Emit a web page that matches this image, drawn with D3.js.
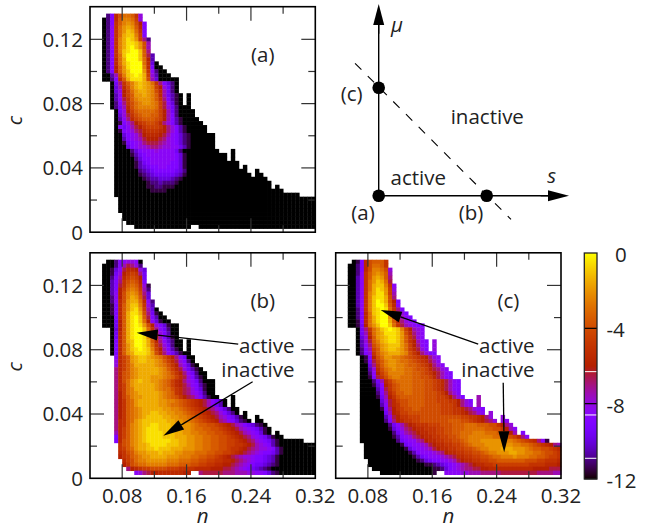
<!DOCTYPE HTML>
<html>
<head>
<meta charset="utf-8">
<script src="https://d3js.org/d3.v7.min.js"></script>
<style type="text/css">
    html, body { margin: 0; padding: 0; background: #fff; }
    svg { display: block; }
    text { font-family: "Open Sans", sans-serif; font-size: 20.5px; fill: #222; }
    .it { font-style: italic; }
</style>
</head>
<body>
<svg id="chart" width="655" height="529"></svg>
<script>
// values coded per cell: A = 0, B = -0.5, C = -1 ... Y = -12, "." = no data
var heatA = [
".WSLIGGHKQ",
"YWSLHFFGJQ",
"YWSKHFEFIMS",
"YWRKGEDEHLS",
"YWRKGECDGKS",
"YWRKGDCCFJS",
"YWRKFDBCEJOW",
"YWRKFDBBCEIP",
"YWRKFDBACEIP",
"YWSKFCBAACHO",
"YWSKGCAAACHNV",
"YWSLGDAAACGMV",
"YWSLGDBAAAGLUY",
"YWSMHEBAAAFLSYY",
"YWSMHECAAAEKRWYY",
"YYVPJFCBABDJQVYYY",
"YYWSLHDBBBDIPUYYYYY",
"..YTOKHFDCDEGKOSUWY",
"..YUPLIFDCDEFJMQTWY",
"..YUQMJGEDDEFILPTWY",
"..YVRMJHEEDEFHLPTVXY.Y",
"..YVRNKHFEEEFHKOSVXY.Y",
"..YWSOKIGFEEFGJNRUXY.Y",
"..YWTPLIGFFFFGJNQTWYYY",
"...YTQMJHGGGGHJMPTWYYYY",
"...YUQNKIHGGHHJMPSWYYYY",
"...YVROLJIHHHIJMPSVXYYYY",
"...YXSQOMKJIIJLOQSVXYYYYY",
"...YSTRPNMKJJJKMOQSVXYYYYY",
"...YXSRQONLKKKLMOQSVXYYYYY",
"...YYUSRQOMLLLMNPRSUWXYYYYYY",
"...YYVSRQPNMMMNOQRSUWXYYYYYY",
"...YYXTSRQONNNOPQRSUWXYYYYYY",
"...YYYUSRQQPOOPQQRRTVXYYYYYY",
"...YYYYWUSRRRQRRRRTWYYYYYYYYY...Y",
"...YYYYXVTSRRRRRRRSUXYYYYYYYYYY.Y",
"...YYYYYWUSSRRRRRRSUXYYYYYYYYYY.Y",
"...YYYYYXVTSRRRRRSSUXYYYYYYYYYYYYY",
"...YYYYYXVUTSSRRSSSUXYYYYYYYYYYYYY.Y",
"...YYYYYYWVUTSSSSSTUWYYYYYYYYYYYYYYY..Y",
"...YYYYYYXWVUTTTTTUVXYYYYYYYYYYYYYYYY.YY",
"...YYYYYYYXWVVUUUVWXYYYYYYYYYYYYYYYYYYYYY",
"...YYYYYYYYXWWVWWWXYYYYYYYYYYYYYYYYYYYYYYY",
"...YYYYYYYYXXWWXXXYYYYYYYYYYYYYYYYYYYYYYYY.Y",
"...YYYYYYYYYXXXXYYYYYYYYYYYYYYYYYYYYYYYYYYYYY",
"...YYYYYYYYYYYYYYYYYYYYYYYYYYYYYYYYYYYYYYYYYYYYYY",
"....YYYYYYYYYYYYYYYYYYYYYYYYYYYYYYYYYYYYYYYYYYYYYYYYY",
"....YYYYYYYYYYYYYYYYYYYYYYYYYYYYYYYYYYYYYYYYYYYYYYYYY",
"....YYYYYYYYYYYYYYYYYYYYYYYYYYYYYYYYYYYYYYYYYYYYYYYYY",
"....YYYYYYYYYYYYYYYYYYYYYYYYYYYYYYYYYYYYYYYYYYYYYYYYY",
".....YYYYYYYYYYYYYYYYYYYYYYYYYYYYYYYYYYYYYYYYYYYYYYYY",
".....YYYYYYYYYYYYYYYYYYYYYYYYYYYYYYYYYYYYYYYYYYYYYYYY",
"......YYYYYYYYYYYYYYYYYYYYYYYYYYYYYYYYYYYYYYYYYYYYYYY",
"........YYYYYYYYYYYYYY..YYYYYYYYYYYYYYYYYYYYYYYYYYYYY"
];
var heatB = [
".YYWSRQQRY",
"YYYWSPNOQW",
"YYXURNLLMQU",
"YYXTQMKJKOT",
"YYWSPLJIJMT",
"YYVSOKIHILS",
"YYVSNKHGHKQX",
"YYVSMJGFGJPW",
"YYVRMIFEFIOU",
"YYWRMIFDEHNU",
"YYWRLIEDDGLRW",
"YYXSLHECCFKQV",
"YYXSLHECBEJPUY",
"YYXSLHDBBDIOTXY",
"YYYSLHDBACHNSVYY",
"YYYTMHDBACGMRUXYY",
"YYYTMHDBABEIMQSUXYY",
"..YUMHDBAACGKORTWYY",
"..YTLHDBAABFJNQSVYY",
"..YTLHDBAABEIMPSVXY",
"..YSLHDCAABDHLORUWYY.Y",
"..YSLHECAABDGKNQTWYY.Y",
"..YSLHECBABCFJMPSVXY.Y",
"..YSLHEDBBBCEILORTVXYY",
"...RLJHEDCCDEFGIKMORTYY",
"...QLJHEDCCDDEFHJLNQSWY",
"...QLJHFDDDDDEFGIKMPRUXY",
"...OLJHFEDDDDDEFHJLNQTVXY",
"...OLIHFEDDDDDEFGIKMORTWYY",
"...OLIHFEDDDEEEFGHJLNQSVXY",
"...OLIGEDCDDEEFGHJLMOQRTWYYY",
"...OLJGEDDDDDEFGHJLMNPRSVXYY",
"...OLJGFDDDDDEFGGIKLNOQSUXYY",
"...OMJGFEDDDDDEFGHKLNOQRTWYY",
"...OMJHFEEDDDDEFGHIKMNOQSVXYY...Y",
"...OMKHGEDDDDDEEFFGHIJKLMNPRTVY.Y",
"...OMKHGEDDDDDEEFGGHIJKLMNPRTVY.Y",
"...OMKHGFEDDDDDEEFFGHIJKLMNOQSUWYY",
"...OMKHGFEDDCCDDEEFFGHIJKLMNOQSUWY.Y",
"...OMKHGFEDCCCCDDEEFFGHIJKLMNPQSTVXY..Y",
"...OLKHGEDCCCCCCDDEEFFGHIJKLMOPRSUWXY.YY",
"...OLKHFEDCCBBCCCDDDEEFGHHIIJKLMNPQSTUWXY",
"...OLJHFEDCBBBCCCDDDEEFGGHHIIJKLMNPQRSTVXY",
"...PLJHFEDCBBBBCCCDDEEFFGGHHIIJKLMNPQRSUXY.Y",
"...SLJHFEDCBBBBCCCDDDEEFFGGHHIIJKLMNOQRSTVXYY",
"...SLIHFEDCBBBBBBCCDDEEFFGGHHIIJJKLMNOQRSTVXYYYYYY",
"....KIHFEDDCBBBBCCCDDEEFFGGHHIIJJKKLMNPQRSVXYYYYYYYYY",
"....KJHGEDDCCBCCCDDDEEEFFGGHHIIJKKLMNOPQQRSVXYYYYYYYY",
"....LKIHFEEDDDCDDDEEFFFGGGHHIIJJKLMNOPQRSSTVXYYYYYYYY",
"....MKJHGFEEDDDDEEEFFFGGHHIIJKLMNOPQQRSSTUVXYYYYYYYYY",
".....LJIGFFEEEEEFFFGGGHHIIJJKKLLMNOPQRSSTUVXYYYYYYYYY",
".....MKIHGGFFFFFGGGHHHIIJJKKLLMMNOPQRSTTUVWXYYYYYYYYY",
"......OMLKJJIIIIJJJKKKKLLLLMMMNNOPQRSTUVWXYYYYYYYYYYY",
"........RQONMMLLLLLLMM..ONNNNNOOOPPPQQRRSUWXYYYYYYYYY"
];
var heatC = [
".YXSLIHHHK",
"YYWSLIGGHK",
"YYWSLIFFGIQ",
"YYWRKHFEFHP",
"YYVRKHEDEHO",
"YYVRKGECDGN",
"YYVRKGDCCFKR",
"YYVRKGDBCEJQ",
"YYVRKFDBBEJP",
"YYVRKFCBBDIO",
"YYVRKFCABDIMS",
"YYVRKFCAACHLR",
"YYWRKFCBABGKOS",
"YYWSLGCBAAFJNQS",
"YYWSLGDBAAEIMPRS",
"YYXSLGDBAADHLOQRS",
"YYXTMGECAACGKNPQRSS",
"..YTOKGECBABCFJMPQR",
"..YTPLGEDBBBCEILOQR",
"..YUQMHEDCBBCEHKNQR",
"..YVQNHFDCBBCEHKMPRS.Q",
"..YVROIGEDCCCEGJMORS.Q",
"..YWSPJHEDCCDEGJLNQS.Q",
"..YWSQKHFEDDDEFIKMOQSS",
"...YXSMIGEEFFGHIJKLMOQR",
"...YXTNJHFEEFGGHIJKLNPR",
"...YYUOKHFEEFFGHHIJKMOQR",
"...YYVQLIGFEFFGGHIIJLNOQR",
"...YYWRMJHFFFFGGHHIJKMNPRS",
"...YYXSNKIGFFGGGHHIIJLNPRS",
"...YYYWTPLJHGGGGHHHIIJKLNPRS",
"...YYYXURMKIHGGGHHHIIJKLNPRS",
"...YYYYVSNKIHGGGHHHIIJKLNPRS",
"...YYYYWSOLJHHGGHHHIIIJKMOQS",
"...YYYYXTPMKIHHHHHHIIIJJKMOQS...P",
"...YYYYYUQNLJIIHHHHIIIJJJKKMOQS.P",
"...YYYYYVRNLKIIHHHHIIIIJJJKMOQR.P",
"...YYYYYXSOMKJIIHHIIIIIJJJKKLNOQRS",
"...YYYYYYTPMLJJIIIIIIIIJJJKKLMNOQR.Q",
"...YYYYYYVRNMKKJJJIIIIIIIIIIJJKKLMOQ..Q",
"...YYYYYYWSOMLKKJJIIIIIIIHHHIIJKLMNOQ.QR",
"...YYYYYYYWTRPNMLKKKJJJIIIHHHGGGHHHIIKMOQ",
"...YYYYYYYXUSQONMLLKKKJJIIHHHGGGGGHHIIKMPR",
"...YYYYYYYYWTRPONMLLKKJJIIHHGGGFFFGGGHIKMP.S",
"...YYYYYYYYXVSRQONMLLKKJJIIHGGFFFFFFGGGHIJLOR",
"...YYYYYYYYYWTSRRPOMLLKKJJIIHGFFFEEEEEEFFGHIJKLORX",
"....YYYYYYYYYXTSRRQPNMLLKKJJIHGFFFEEEEEEEFFGGHIJKLMOP",
"....YYYYYYYYYYXUSRRQPNMLLKKJJIIHGFFEEEDDDEEEFGHHIIJKL",
"....YYYYYYYYYYYXVSRRRQPOMLLKKJJIIHGFFEEEDDEEFFGGHIIJK",
"....YYYYYYYYYYYYXVTSRRRQPONLLKKJJIIHGGFFFEFFFGGHHIJJK",
".....YYYYYYYYYYYYXWUTSSRRQPNMLLKKJJIIHHHHHHHIIIJJKKKL",
".....YYYYYYYYYYYYYYXXWVUTSRQPONMLLKKJJJJJJJJJKKKKLLLM",
"......YYYYYYYYYYYYYYYXXWUSRQPOONNMMLLLLLLLLLLLMMMMNNN",
"........YYYYYYYYYYYYYX..RRRRQQPPPOOOOONNNNNNNNNOOOOPP"
];

var nTicks = [0.08, 0.12, 0.16, 0.20, 0.24, 0.28, 0.32];
var nLabels = [0.08, 0.16, 0.24, 0.32];
var cTicks = [0.02, 0.04, 0.06, 0.08, 0.10, 0.12];
var cLabels = [0, 0.04, 0.08, 0.12];
var barLabels = [0, -4, -8, -12];
var barWhite = [-6.3, -8.6, -10.9];

// the colour map is gnuplot's default pm3d palette
function palette(t) {
    var r = Math.sqrt(t), g = t * t * t, b = Math.max(0, Math.sin(2 * Math.PI * t));
    return d3.rgb(255 * r, 255 * g, 255 * b) + "";
}
var color = d3.scaleSequential(palette).domain([-12, 0]);

var svg = d3.select("#chart");
var panelW = 225.3, panelH = 225.5;

function fmt(v) { return v === 0 ? "0" : v.toFixed(2); }

function drawPanel(left, top, rows, name, showY, showX) {
    var x = d3.scaleLinear().domain([0.04, 0.32]).range([left, left + panelW]);
    var y = d3.scaleLinear().domain([0, 0.1403]).range([top + panelH, top]);
    var g = svg.append("g");
    var cells = g.append("g").style("filter", "blur(0.4px)");
    var cellN = 0.005, cellC = 0.002476;

    rows.forEach(function (row, r) {
        row.split("").forEach(function (ch, k) {
            if (ch === ".") return;
            var v = -(ch.charCodeAt(0) - 65) / 2;
            var n0 = 0.055 + k * cellN, c0 = 0.136 - r * cellC;
            cells.append("rect")
                .attr("x", x(n0))
                .attr("y", y(c0))
                .attr("width", x(n0 + cellN) - x(n0) + 0.4)
                .attr("height", y(c0 - cellC) - y(c0) + 0.4)
                .attr("fill", color(v));
        });
    });

    // ticks point inward on all four sides
    nTicks.forEach(function (n) {
        var len = nLabels.indexOf(n) >= 0 ? 14 : 7;
        if (n >= 0.32) return;
        g.append("line").attr("x1", x(n)).attr("x2", x(n)).attr("y1", top).attr("y2", top + len);
        g.append("line").attr("x1", x(n)).attr("x2", x(n)).attr("y1", top + panelH).attr("y2", top + panelH - len);
    });
    cTicks.forEach(function (c) {
        var len = cLabels.indexOf(c) >= 0 ? 14 : 7;
        g.append("line").attr("x1", left).attr("x2", left + len).attr("y1", y(c)).attr("y2", y(c));
        g.append("line").attr("x1", left + panelW).attr("x2", left + panelW - len).attr("y1", y(c)).attr("y2", y(c));
    });
    g.selectAll("line").attr("stroke", "#333").attr("stroke-width", 1.2);

    g.append("rect").attr("x", left).attr("y", top).attr("width", panelW).attr("height", panelH)
        .attr("fill", "none").attr("stroke", "#000").attr("stroke-width", 1.6);

    if (showY) {
        cLabels.forEach(function (c) {
            g.append("text").attr("x", left - 7).attr("y", y(c)).attr("dy", "0.36em")
                .attr("text-anchor", "end").text(fmt(c));
        });
        g.append("text").attr("class", "it").attr("text-anchor", "middle")
            .attr("transform", "translate(" + (left - 68) + "," + (top + 114) + ") rotate(-90)")
            .text("c");
    }
    if (showX) {
        nLabels.forEach(function (n) {
            g.append("text").attr("x", x(n)).attr("y", top + panelH + 17).attr("dy", "0.36em")
                .attr("text-anchor", "middle").text(n.toFixed(2));
        });
        g.append("text").attr("class", "it").attr("x", x(0.18)).attr("y", top + panelH + 45)
            .attr("text-anchor", "middle").text("n");
    }
    g.append("text").attr("x", left + 172.7).attr("y", top + 47.5).attr("dy", "0.36em")
        .attr("text-anchor", "middle").text(name);

    return { x: x, y: y };
}

function arrow(s, from, to) {
    var x1 = s.x(from[0]), y1 = s.y(from[1]), x2 = s.x(to[0]), y2 = s.y(to[1]);
    var a = Math.atan2(y2 - y1, x2 - x1), len = 21, hw = 5.5;
    var bx = x2 - len * Math.cos(a), by = y2 - len * Math.sin(a);
    svg.append("line").attr("x1", x1).attr("y1", y1).attr("x2", bx).attr("y2", by)
        .attr("stroke", "#000").attr("stroke-width", 1.3);
    svg.append("path").attr("fill", "#000")
        .attr("d", "M" + x2 + "," + y2 +
            "L" + (bx + hw * Math.sin(a)) + "," + (by - hw * Math.cos(a)) +
            "L" + (bx - hw * Math.sin(a)) + "," + (by + hw * Math.cos(a)) + "Z");
}

var pa = drawPanel(90, 6.7, heatA, "(a)", true, false);
var pb = drawPanel(90, 252.8, heatB, "(b)", true, true);
var pc = drawPanel(335.7, 252.8, heatC, "(c)", false, true);

// annotations of panels b and c
arrow(pb, [0.2242, 0.0835], [0.098, 0.0906]);
arrow(pb, [0.2421, 0.0601], [0.1311, 0.0265]);
arrow(pc, [0.2171, 0.0835], [0.0959, 0.1047]);
arrow(pc, [0.2482, 0.0595], [0.2494, 0.0162]);
[294.5, 534.5].forEach(function (d) {
    svg.append("text").attr("x", d).attr("y", 346).attr("dy", "0.36em").attr("text-anchor", "end").text("active");
    svg.append("text").attr("x", d).attr("y", 369.3).attr("dy", "0.36em").attr("text-anchor", "end").text("inactive");
});

// phase diagram sketch, top right
var sx = d3.scaleLinear().domain([0, 1]).range([378.7, 486.7]);
var sy = d3.scaleLinear().domain([0, 1]).range([195.7, 87.7]);
var sk = svg.append("g");
sk.append("line").attr("x1", sx(0)).attr("y1", sy(0)).attr("x2", sx(0)).attr("y2", sy(1.6))
    .attr("stroke", "#000").attr("stroke-width", 1.4);
sk.append("line").attr("x1", sx(0)).attr("y1", sy(0)).attr("x2", sx(1.6)).attr("y2", sy(0))
    .attr("stroke", "#000").attr("stroke-width", 1.4);
sk.append("line").attr("x1", sx(-0.219)).attr("y1", sy(1.226)).attr("x2", sx(1.225)).attr("y2", sy(-0.219))
    .attr("stroke", "#000").attr("stroke-width", 1.1).attr("stroke-dasharray", "9,9");
arrow({ x: sx, y: sy }, [0, 1.5], [0, 1.775]);
arrow({ x: sx, y: sy }, [1.5, 0], [1.762, 0]);
[[0, 0], [1, 0], [0, 1]].forEach(function (d) {
    sk.append("circle").attr("cx", sx(d[0])).attr("cy", sy(d[1])).attr("r", 6.3).attr("fill", "#000");
});
var skText = [
    [397, 25, "\u03bc", "it"], [551.7, 176, "s", "it"], [351.7, 94, "(c)", ""],
    [487.3, 117, "inactive", ""], [418.3, 177.7, "active", ""],
    [363, 213, "(a)", ""], [471, 213, "(b)", ""]
];
skText.forEach(function (d) {
    svg.append("text").attr("class", d[3]).attr("x", d[0]).attr("y", d[1]).attr("dy", "0.36em")
        .attr("text-anchor", "middle").text(d[2]);
});

// colour bar
var barY = d3.scaleLinear().domain([0, -12]).range([253, 479]);
var bar = svg.append("g");
d3.range(253, 479).forEach(function (py) {
    bar.append("rect").attr("x", 584.3).attr("y", py).attr("width", 12.7).attr("height", 1.4)
        .attr("fill", color(barY.invert(py + 0.5)));
});
barWhite.forEach(function (v) {
    bar.append("line").attr("x1", 584.3).attr("x2", 597).attr("y1", barY(v)).attr("y2", barY(v))
        .attr("stroke", "#fff").attr("stroke-width", 1);
});
[-4, -8].forEach(function (v) {
    bar.append("line").attr("x1", 584.3).attr("x2", 597).attr("y1", barY(v)).attr("y2", barY(v))
        .attr("stroke", "#000").attr("stroke-width", 1.2);
});
bar.append("rect").attr("x", 584.3).attr("y", 253).attr("width", 12.7).attr("height", 226)
    .attr("fill", "none").attr("stroke", "#222").attr("stroke-width", 1.3);
barLabels.forEach(function (v) {
    bar.append("text").attr("x", v === 0 ? 615 : 606.5).attr("y", barY(v) + 1.5).attr("dy", "0.36em")
        .text(v === 0 ? "0" : "-" + Math.abs(v));
});
</script>
</body>
</html>
